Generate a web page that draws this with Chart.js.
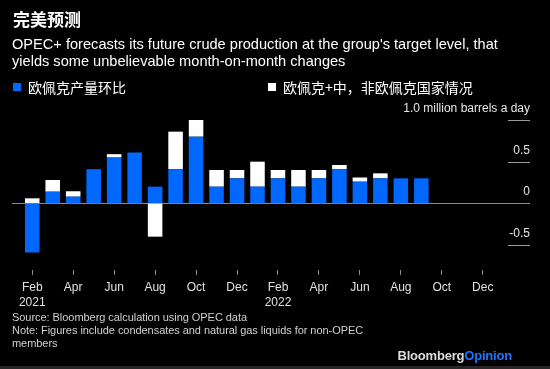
<!DOCTYPE html>
<html>
<head>
<meta charset="utf-8">
<script src="https://cdn.jsdelivr.net/npm/chart.js@4"></script>
<style>
  html, body { margin: 0; padding: 0; background: #000; }
  #wrap { position: relative; width: 550px; height: 369px; overflow: hidden; background: #000; }
  #c { position: absolute; left: 0; top: 0; }
  .t { position: absolute; white-space: nowrap; color: #fff; }
  #title { left: 13px; top: 10px; font: bold 17px/18px "Noto Sans CJK SC", sans-serif; }
  #subtitle { left: 12px; top: 36px; font: 14.6px/17px "Liberation Sans", Arial, sans-serif; }
  .sw { position: absolute; width: 8px; height: 8px; top: 83px; }
  .lg { top: 79px; font: 14px/16px "Noto Sans CJK SC", sans-serif; }
  #foot { left: 12px; top: 311px; font: 11px/13px "Liberation Sans", Arial, sans-serif; color: #d0d0d0; letter-spacing: -0.05px; }
  #brand { right: 38px; top: 349px; font: bold 13px/14px "Liberation Sans", Arial, sans-serif; color: #dcdcdc; letter-spacing: -0.2px; }
  #brand span { color: #1f74ff; }
  #strip { position: absolute; left: 0; top: 366px; width: 550px; height: 3px; background: #262626; }
</style>
</head>
<body>
<div id="wrap">
  <canvas id="c" width="550" height="369"></canvas>
  <div class="t" id="title">完美预测</div>
  <div class="t" id="subtitle">OPEC+ forecasts its future crude production at the group's target level, that<br>yields some unbelievable month-on-month changes</div>
  <div class="sw" style="left:13px;background:#0068ff"></div>
  <div class="t lg" style="left:28px">欧佩克产量环比</div>
  <div class="sw" style="left:268px;background:#fff"></div>
  <div class="t lg" style="left:283px">欧佩克+中，非欧佩克国家情况</div>
  <div class="t" id="foot">Source: Bloomberg calculation using OPEC data<br>Note: Figures include condensates and natural gas liquids for non-OPEC<br>members</div>
  <div class="t" id="brand">Bloomberg<span>Opinion</span></div>
  <div id="strip"></div>
</div>
<script>
const categories = ['2021-02','2021-03','2021-04','2021-05','2021-06','2021-07','2021-08','2021-09','2021-10','2021-11','2021-12',
  '2022-01','2022-02','2022-03','2022-04','2022-05','2022-06','2022-07','2022-08','2022-09','2022-10','2022-11','2022-12'];
const opecChange = [-0.59, 0.14, 0.08, 0.41, 0.55, 0.61, 0.20, 0.41, 0.80, 0.20, 0.30,
  0.20, 0.30, 0.20, 0.30, 0.41, 0.26, 0.30, 0.30, 0.30, null, null, null];
const nonOpecChange = [0.06, 0.14, 0.065, 0, 0.04, 0, -0.40, 0.45, 0.31, 0.20, 0.10,
  0.30, 0.10, 0.20, 0.10, 0.05, 0.05, 0.06, 0, 0, null, null, null];
const xTickLabels = [['Feb','2021'], null, 'Apr', null, 'Jun', null, 'Aug', null, 'Oct', null, 'Dec',
  null, ['Feb','2022'], null, 'Apr', null, 'Jun', null, 'Aug', null, 'Oct', null, 'Dec'];
const yTickValues = [1.0, 0.5, 0, -0.5];
const yTickLabels = ['1.0 million barrels a day', '0.5', '0', '-0.5'];

const axisPlugin = {
  id: 'axisPlugin',
  beforeDatasetsDraw(chart) {
    const { ctx, chartArea, scales: { y } } = chart;
    const py = Math.round(y.getPixelForValue(0)) + 0.5;
    ctx.save();
    ctx.strokeStyle = '#8c8c8c';
    ctx.lineWidth = 1;
    ctx.beginPath();
    ctx.moveTo(chartArea.left - 10, py);
    ctx.lineTo(chart.width - 20, py);
    ctx.stroke();
    ctx.restore();
  },
  afterDraw(chart) {
    const { ctx, scales: { y } } = chart;
    const right = chart.width - 20;
    ctx.save();
    ctx.font = '12px "Liberation Sans", Arial, sans-serif';
    ctx.textAlign = 'right';
    ctx.textBaseline = 'middle';
    yTickValues.forEach((v, i) => {
      const py = Math.round(y.getPixelForValue(v)) + 0.5;
      if (v !== 0) {
        ctx.strokeStyle = '#9a9a9a';
        ctx.lineWidth = 1;
        ctx.beginPath();
        ctx.moveTo(right - 22, py);
        ctx.lineTo(right, py);
        ctx.stroke();
      }
      ctx.fillStyle = '#e6e6e6';
      ctx.fillText(yTickLabels[i], right, py - 12);
    });
    ctx.restore();
  }
};

new Chart(document.getElementById('c'), {
  type: 'bar',
  data: {
    labels: categories,
    datasets: [
      { label: '欧佩克产量环比', data: opecChange, backgroundColor: '#0068ff', borderWidth: 0 },
      { label: '欧佩克+中，非欧佩克国家情况', data: nonOpecChange, backgroundColor: '#ffffff', borderWidth: 0 }
    ]
  },
  options: {
    responsive: false,
    devicePixelRatio: 1,
    animation: false,
    datasets: { bar: { categoryPercentage: 1, barPercentage: 0.71 } },
    layout: { padding: { top: 120, left: 22, right: 57, bottom: 54 } },
    plugins: { legend: { display: false }, tooltip: { enabled: false }, title: { display: false } },
    scales: {
      x: {
        stacked: true,
        offset: true,
        afterFit(scale) { scale.height = 45; },
        grid: { display: true, offset: false, drawOnChartArea: false, drawTicks: true, tickLength: 5, color: '#8c8c8c' },
        border: { display: false },
        ticks: {
          autoSkip: false, maxRotation: 0, padding: 5,
          color: '#e0e0e0',
          font: { family: '"Liberation Sans", Arial, sans-serif', size: 12, lineHeight: 1.25 },
          callback: (v, i) => xTickLabels[i]
        }
      },
      y: {
        stacked: true,
        display: false,
        min: -0.8,
        max: 1.0
      }
    }
  },
  plugins: [axisPlugin]
});
</script>
</body>
</html>
